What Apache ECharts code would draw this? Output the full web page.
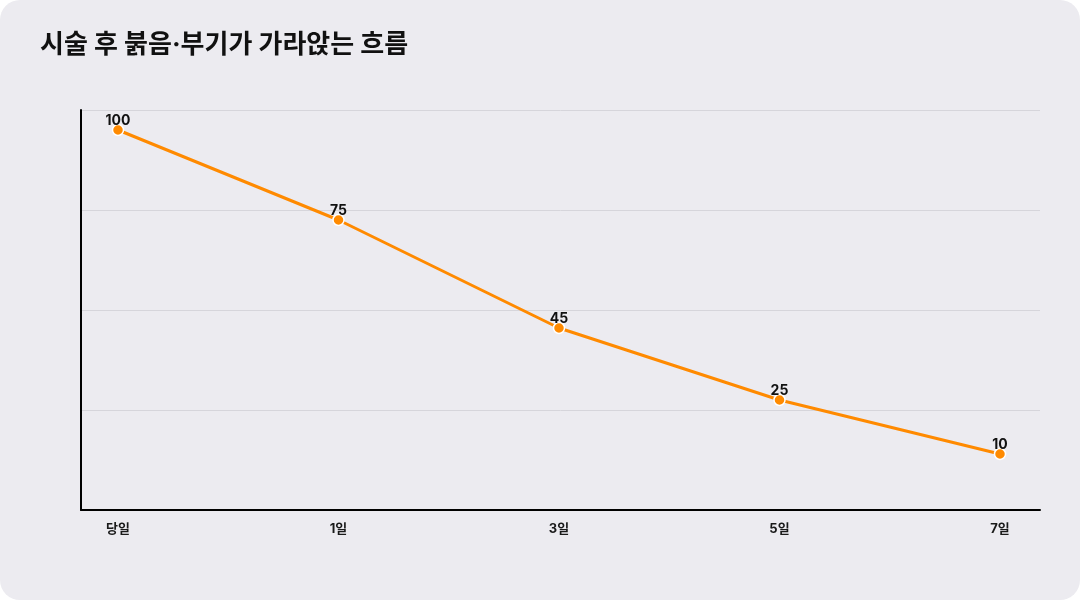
<!DOCTYPE html>
<html>
<head>
<meta charset="utf-8">
<script src="https://cdn.jsdelivr.net/npm/echarts@6/dist/echarts.min.js"></script>
<style>
  html, body { margin: 0; padding: 0; background: #fff; }
  #chart { width: 1080px; height: 600px; background: #ECEBF0; border-radius: 20px; overflow: hidden; }
</style>
</head>
<body>
<div id="chart"></div>
<script>
const categories = ['당일', '1일', '3일', '5일', '7일'];
const values = [100, 75, 45, 25, 10];
const yMin = -5.556;
const yMax = 105.556;

const numFont = "Inter, 'Noto Sans CJK KR', sans-serif";
const chart = echarts.init(document.getElementById('chart'), null, { renderer: 'canvas' });

chart.setOption({
    backgroundColor: 'transparent',
    animation: false,
    title: {
        text: '시술 후 붉음·부기가 가라앉는 흐름',
        left: 40,
        top: 32,
        padding: 0,
        textStyle: { fontFamily: numFont, fontSize: 26, fontWeight: 'bold', color: '#111' },
    },
    grid: [
        // frame grid: axis lines + gridlines
        { left: 81, right: 40, top: 110, bottom: 90 },
        // data grid
        { left: 118, right: 80, top: 110, bottom: 90 },
    ],
    xAxis: [
        {
            gridIndex: 0,
            type: 'value',
            min: 0,
            max: 1,
            axisLine: { show: true, lineStyle: { color: '#000', width: 2 } },
            axisTick: { show: false },
            axisLabel: { show: false },
            splitLine: { show: false },
        },
        {
            gridIndex: 1,
            type: 'category',
            data: categories,
            boundaryGap: false,
            axisLine: { show: false },
            axisTick: { show: false },
            axisLabel: {
                margin: 13,
                fontFamily: numFont,
                fontSize: 13,
                fontWeight: 'bold',
                color: '#1a1a1a',
            },
        },
    ],
    yAxis: [
        {
            gridIndex: 0,
            type: 'value',
            min: 0,
            max: 4,
            interval: 1,
            axisLine: { show: true, lineStyle: { color: '#000', width: 2 } },
            axisTick: { show: false },
            axisLabel: { show: false },
            splitLine: { show: true, lineStyle: { color: '#D6D5DB', width: 1 } },
        },
        {
            gridIndex: 1,
            type: 'value',
            min: yMin,
            max: yMax,
            show: false,
            splitLine: { show: false },
        },
    ],
    series: [{
        type: 'line',
        xAxisIndex: 1,
        yAxisIndex: 1,
        data: values,
        symbol: 'circle',
        symbolSize: 11,
        lineStyle: { color: '#FF8A00', width: 3 },
        itemStyle: { color: '#FF8A00', borderColor: '#fff', borderWidth: 1.5 },
        label: {
            show: true,
            position: 'top',
            distance: -4,
            fontFamily: numFont,
            fontSize: 14,
            fontWeight: 'bold',
            color: '#111',
        },
    }],
});
</script>
</body>
</html>
